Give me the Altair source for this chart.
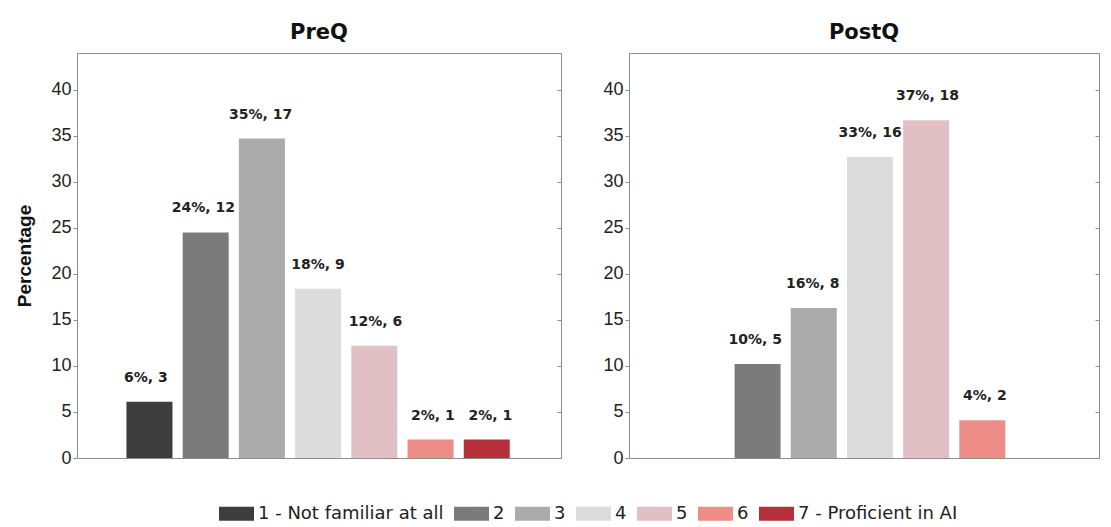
import altair as alt
import pandas as pd

# ---- data ----
categories = ["1 - Not familiar at all", "2", "3", "4", "5", "6", "7 - Proficient in AI"]
colors = ["#3d3d3d", "#7b7b7b", "#ababab", "#dcdcdc", "#e0c0c4", "#ee8c88", "#b5303a"]

pre_levels = [1, 2, 3, 4, 5, 6, 7]
pre_pct = [6.1, 24.5, 34.7, 18.4, 12.2, 2.0, 2.0]
pre_pct_label = [6, 24, 35, 18, 12, 2, 2]
pre_count = [3, 12, 17, 9, 6, 1, 1]

post_levels = [2, 3, 4, 5, 6]
post_pct = [10.2, 16.3, 32.7, 36.7, 4.1]
post_pct_label = [10, 16, 33, 37, 4]
post_count = [5, 8, 16, 18, 2]

y_ticks = [0, 5, 10, 15, 20, 25, 30, 35, 40]


def make_df(levels, pct, pct_label, count):
    return pd.DataFrame({
        "level": levels,
        "category": [categories[l - 1] for l in levels],
        "pct": pct,
        "label": [f"{p}%, {c}" for p, c in zip(pct_label, count)],
    })


pre_df = make_df(pre_levels, pre_pct, pre_pct_label, pre_count)
post_df = make_df(post_levels, post_pct, post_pct_label, post_count)

legend = alt.Legend(
    title=None,
    orient="none",
    legendX=142,
    legendY=443,
    direction="horizontal",
    columns=7,
    symbolType="M-1,-0.4H1V0.4H-1Z",
    symbolSize=1225,
    symbolStrokeWidth=0,
    labelFont="DejaVu Sans",
    labelFontSize=18,
    labelLimit=0,
    labelColor="#222222",
    labelOffset=4,
    columnPadding=10,
)

SLOT = 57.4  # pixels per rating step (same in both panels)


def panel(df, title, show_ytitle, width):
    base = alt.Chart(df)
    x = alt.X("level:Q",
              scale=alt.Scale(domain=[-0.2, -0.2 + width / SLOT], nice=False, zero=False),
              axis=None)
    y_scale = alt.Scale(domain=[0, 44], nice=False)
    left_axis = alt.Axis(
        values=y_ticks, grid=False, domain=False, tickSize=4, labelPadding=2,
        title="Percentage" if show_ytitle else None, titlePadding=16,
    )
    right_axis = alt.Axis(
        orient="right", values=y_ticks, grid=False, domain=False, labels=False,
        tickSize=4, offset=-4, title=None,
    )
    bars = base.mark_bar(size=46).encode(
        x=x,
        y=alt.Y("pct:Q", scale=y_scale, axis=left_axis),
        color=alt.Color("category:N", scale=alt.Scale(domain=categories, range=colors), legend=legend),
    )
    text = base.mark_text(
        dy=-24, font="DejaVu Sans", fontWeight="bold", fontSize=14, color="#222222", baseline="middle"
    ).encode(
        x=x,
        y=alt.Y("pct:Q", scale=y_scale, axis=right_axis),
        text="label:N",
    )
    return alt.layer(bars, text).resolve_axis(y="independent").resolve_scale(x="independent").properties(
        width=width, height=405,
        title=alt.TitleParams(title, font="DejaVu Sans", fontSize=21, fontWeight="bold",
                              color="#111111", offset=10, anchor="middle"),
    )


chart = alt.hconcat(
    panel(pre_df, "PreQ", True, 484),
    panel(post_df, "PostQ", False, 470),
    spacing=40,
).resolve_scale(x="independent").properties(
    padding={"left": 7, "top": 13, "right": 0, "bottom": 0},
).configure_view(
    stroke="#8c8c8c", strokeWidth=1
).configure_axis(
    labelFont="Liberation Sans", labelFontSize=18, labelColor="#222222",
    tickColor="#8c8c8c", titleFont="Liberation Sans", titleFontSize=19,
    titleFontWeight="bold", titleColor="#111111",
)

chart.save("out.html", embed_options={"renderer": "svg", "actions": False})
